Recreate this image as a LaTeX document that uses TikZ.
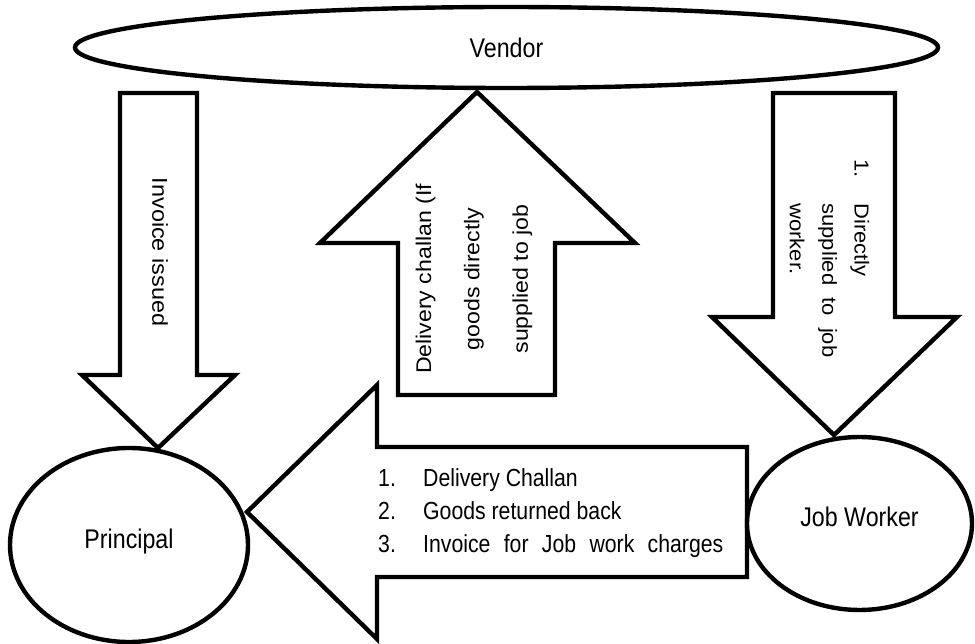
\documentclass[tikz,border=0pt]{standalone}
\usepackage{fontspec}
\setmainfont{Liberation Sans}
\usepackage{graphicx}
\usetikzlibrary{shapes.geometric}
\begin{document}
\begin{tikzpicture}[x=1pt,y=-1pt,
  ent/.style={ellipse, draw, fill=white, inner sep=0pt, line width=4.4pt},
  blk/.style={draw, fill=white, line width=4.4pt, line join=miter},
  lbl/.style={inner sep=0pt}]
\useasboundingbox (0,0) rectangle (975,644);

% block arrows
\draw[blk] (120,93) -- (197,93) -- (197,375) -- (235,375) -- (158,448) -- (82,375) -- (120,375) -- cycle;
\draw[blk] (477,92) -- (635,243) -- (555,243) -- (555,395) -- (398,395) -- (398,243) -- (320,243) -- cycle;
\draw[blk] (773,93) -- (895,93) -- (895,317) -- (957,317) -- (834,435) -- (712,317) -- (773,317) -- cycle;
\draw[blk] (247,512) -- (377,385) -- (377,447) -- (747,447) -- (747,577) -- (377,577) -- (377,639) -- cycle;

% entities
\node[ent, minimum width=863pt, minimum height=81pt] (vendor) at (506.5,47.5)
  {\raisebox{-10.5pt}[0pt][0pt]{\scalebox{0.86}[1]{\fontsize{27}{32}\selectfont Vendor}}};
\node[ent, minimum width=238pt, minimum height=194pt] (principal) at (129,545)
  {\raisebox{-3pt}[0pt][0pt]{\scalebox{0.86}[1]{\fontsize{27}{32}\selectfont Principal}}};
\node[ent, minimum width=225pt, minimum height=173pt] (jobworker) at (859.5,523.5)
  {\raisebox{-2.5pt}[0pt][0pt]{\scalebox{0.86}[1]{\fontsize{27}{32}\selectfont Job Worker}}};

% arrow texts
\node[lbl] (invoice) at (160,252)
  {\scalebox{0.92}[1]{\rotatebox{-90}{\fontsize{23.4}{28}\selectfont Invoice issued}}};
\node[lbl] (challan) at (474,279)
  {\scalebox{0.92}[1]{\rotatebox{90}{\fontsize{23.1}{52.7}\selectfont\vtop{\halign{\hfil#\hfil\cr Delivery challan (If\cr goods directly\cr supplied to job\cr}}}}};
\node[lbl] (direct) at (829.5,258.5)
  {\scalebox{0.92}[1]{\rotatebox{-90}{\fontsize{22}{35.3}\selectfont\vtop{\hbox{\hbox to 44pt{1.\hfil}Directly}\hbox{\hskip44pt\hbox to 154pt{supplied\hfill to\hfill job}}\hbox{\hskip44pt worker.}}}}};
\node[lbl, anchor=base west] (list) at (378,486)
  {\scalebox{0.86}[1]{\fontsize{24.7}{33}\selectfont\vtop{\hbox{\hbox to 52.3pt{1.\hfil}Delivery Challan}\hbox{\hbox to 52.3pt{2.\hfil}Goods returned back}\hbox{\hbox to 52.3pt{3.\hfil}\hbox to 349pt{Invoice\hfill for\hfill Job\hfill work\hfill charges}}}}};
\end{tikzpicture}
\end{document}
